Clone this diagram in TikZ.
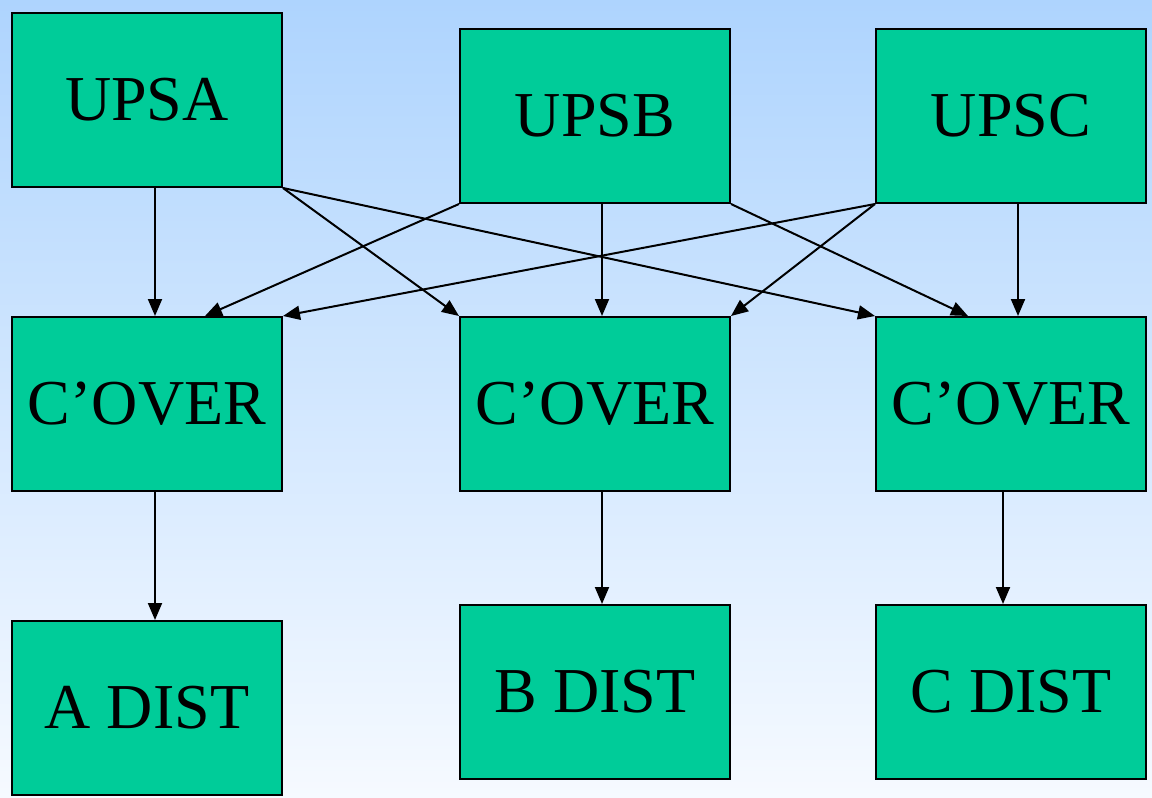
\documentclass[tikz,border=0pt]{standalone}
\usepackage{fontspec}
\setmainfont{Liberation Serif}
\usetikzlibrary{arrows.meta}

\definecolor{skytop}{HTML}{AED4FE}
\definecolor{skybottom}{HTML}{F6FAFF}
\definecolor{boxgreen}{HTML}{00CC99}

\begin{document}
\begin{tikzpicture}[x=1pt,y=-1pt,
    unit/.style={draw,fill=boxgreen,line width=2pt,minimum width=270pt,minimum height=174pt,
        inner sep=0pt,font=\fontsize{64}{70}\selectfont},
    feed/.style={-{Triangle[length=17pt,width=14pt]},line width=2pt}]
\fill[top color=skytop,bottom color=skybottom] (0,0) rectangle (1152,798);
\useasboundingbox (0,0) rectangle (1152,798);

% supplies
\node[unit] (upsa) at (147,100) {UPSA};
\node[unit] (upsb) at (595,116) {UPSB};
\node[unit] (upsc) at (1011,116) {UPSC};

% changeovers
\node[unit] (cova) at (147,404) {C’OVER};
\node[unit] (covb) at (595,404) {C’OVER};
\node[unit] (covc) at (1011,404) {C’OVER};

% distribution
\node[unit] (adist) at (147,708) {A DIST};
\node[unit] (bdist) at (595,692) {B DIST};
\node[unit] (cdist) at (1011,692) {C DIST};

\draw[feed] ([xshift=8pt]upsa.south) -- ([xshift=8pt]cova.north);
\draw[feed] (upsa.south east) -- (covb.north west);
\draw[feed] (upsa.south east) -- (covc.north west);
\draw[feed] (upsb.south west) -- ([xshift=58pt]cova.north);
\draw[feed] ([xshift=7pt]upsb.south) -- ([xshift=7pt]covb.north);
\draw[feed] (upsb.south east) -- ([xshift=-43pt]covc.north);
\draw[feed] (upsc.south west) -- (cova.north east);
\draw[feed] (upsc.south west) -- (covb.north east);
\draw[feed] ([xshift=7pt]upsc.south) -- ([xshift=7pt]covc.north);

\draw[feed] ([xshift=8pt]cova.south) -- ([xshift=8pt]adist.north);
\draw[feed] ([xshift=7pt]covb.south) -- ([xshift=7pt]bdist.north);
\draw[feed] ([xshift=-8pt]covc.south) -- ([xshift=-8pt]cdist.north);
\end{tikzpicture}
\end{document}
